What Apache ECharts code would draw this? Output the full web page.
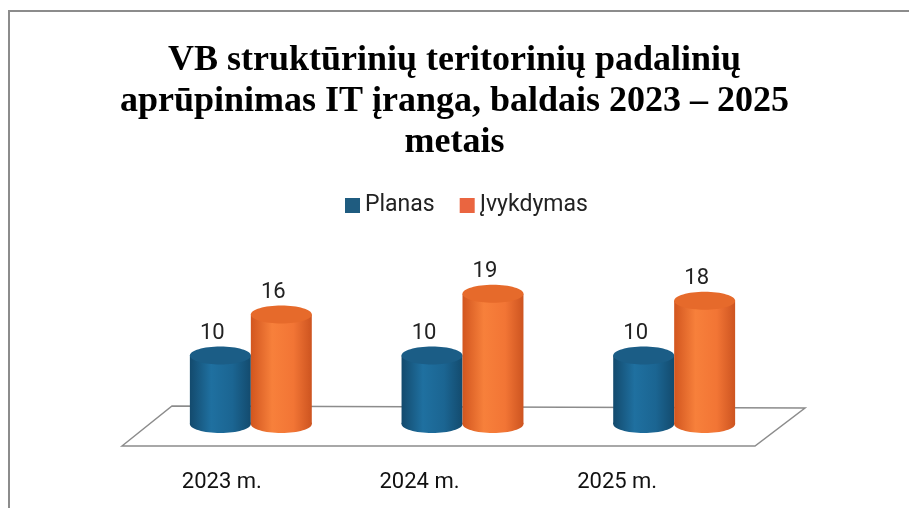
<!DOCTYPE html>
<html>
<head>
<meta charset="utf-8">
<script src="https://cdn.jsdelivr.net/npm/echarts@6/dist/echarts.min.js"></script>
<style>
  html, body { margin: 0; padding: 0; background: #fff; }
  #chart { width: 909px; height: 508px; }
</style>
</head>
<body>
<div id="chart"></div>
<script>
const titleText = "VB struktūrinių teritorinių padalinių\naprūpinimas IT įranga, baldais 2023 – 2025\nmetais";
const categories = ["2023 m.", "2024 m.", "2025 m."];
const seriesNames = ["Planas", "Įvykdymas"];
const planas = [10, 10, 10];
const ivykdymas = [16, 19, 18];

const SANS = 'Roboto, "Liberation Sans", sans-serif';

const gradient = (stops) => ({
  type: "linear", x: 0, y: 0, x2: 1, y2: 0,
  colorStops: stops.map(([offset, color]) => ({ offset, color })),
});

// draws one cylinder per data item; side -1 = left of the category centre, 1 = right
function cylinder(side, bodyStops, topColor) {
  return (params, api) => {
    const val = api.value(1);
    const top = api.coord([api.value(0), val]);
    const base = api.coord([api.value(0), 0]);
    const w = api.size([1, 0])[0] * 0.288;
    const rx = w / 2;
    const ry = 9;
    const cx = top[0] + side * rx;
    const fill = gradient(bodyStops);
    return {
      type: "group",
      children: [
        { type: "ellipse", shape: { cx, cy: base[1], rx, ry }, style: { fill } },
        { type: "rect", shape: { x: cx - rx, y: top[1], width: w, height: base[1] - top[1] }, style: { fill } },
        { type: "ellipse", shape: { cx, cy: top[1], rx, ry }, style: { fill: topColor } },
        {
          type: "text",
          style: {
            text: String(val), x: cx - 8, y: top[1] - 22,
            align: "center", verticalAlign: "middle",
            fontSize: 22, fontFamily: SANS, fill: "#222",
          },
        },
      ],
    };
  };
}

const chart = echarts.init(document.getElementById("chart"));

chart.setOption({
  backgroundColor: "#fff",
  animation: false,
  title: {
    text: titleText,
    left: "center",
    top: 35,
    textStyle: {
      fontFamily: '"Liberation Serif", "Times New Roman", serif',
      fontWeight: "bold",
      fontSize: 36,
      lineHeight: 41,
      color: "#000",
    },
  },
  legend: {
    data: seriesNames,
    left: 340,
    top: 189,
    icon: "rect",
    itemWidth: 15,
    itemHeight: 15,
    itemGap: 25,
    textStyle: { fontFamily: SANS, fontSize: 23, color: "#222" },
  },
  graphic: [
    {
      type: "polyline", z: 0, silent: true,
      shape: { points: [[9, 508], [9, 11], [909, 11]] },
      style: { stroke: "#8c8c8c", lineWidth: 2, fill: null },
    },
    {
      type: "polygon", z: 0, silent: true,
      shape: { points: [[122, 446], [172, 406], [805, 408], [755, 446]] },
      style: { stroke: "#8c8c8c", lineWidth: 1.5, fill: "rgba(255,255,255,0)" },
    },
  ],
  grid: [
    { left: 145, right: 129, top: 287, bottom: 84 },
    { left: 123, right: 193, top: 300, bottom: 48 },
  ],
  xAxis: [
    { gridIndex: 0, type: "category", data: categories, show: false },
    {
      gridIndex: 1, type: "category", data: categories,
      axisLine: { show: false }, axisTick: { show: false },
      axisLabel: { margin: 10, fontFamily: SANS, fontSize: 22, lineHeight: 24, color: "#111" },
    },
  ],
  yAxis: [
    { gridIndex: 0, type: "value", min: 0, max: 20, show: false },
    { gridIndex: 1, type: "value", show: false },
  ],
  series: [
    {
      name: seriesNames[0], type: "custom", xAxisIndex: 0, yAxisIndex: 0, z: 5,
      itemStyle: { color: "#1f5c80" },
      encode: { x: 0, y: 1 },
      data: planas.map((v, i) => [i, v]),
      renderItem: cylinder(-1, [[0, "#134a6d"], [0.35, "#1f70a0"], [0.7, "#1b6592"], [1, "#134b6e"]], "#1b5d86"),
    },
    {
      name: seriesNames[1], type: "custom", xAxisIndex: 0, yAxisIndex: 0, z: 5,
      itemStyle: { color: "#ea6540" },
      encode: { x: 0, y: 1 },
      data: ivykdymas.map((v, i) => [i, v]),
      renderItem: cylinder(1, [[0, "#d2561f"], [0.35, "#f7803b"], [0.7, "#f27535"], [1, "#cd5420"]], "#e66a2b"),
    },
  ],
});
</script>
</body>
</html>
